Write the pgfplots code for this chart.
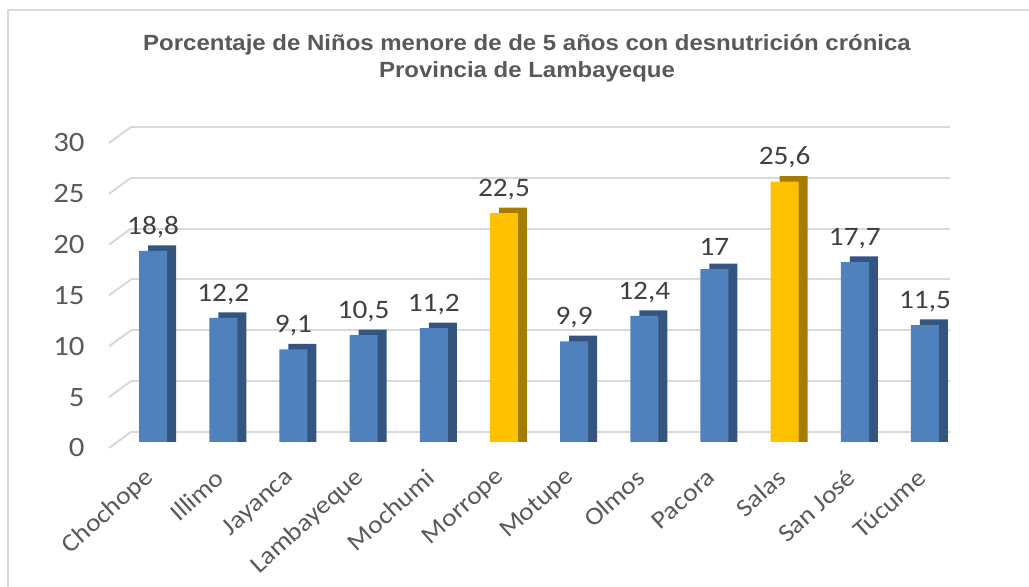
\documentclass[border=0pt]{standalone}
\usepackage{fontspec}
\setmainfont{Carlito}[FakeStretch=1.1]
\newfontfamily\titlefont{Liberation Sans}[FakeStretch=1.09]
\usepackage{pgfplots}
\pgfplotsset{compat=1.18}
\usepackage{pgfplotstable}

\definecolor{barblue}{HTML}{4F81BD}
\definecolor{barblueside}{HTML}{34557F}
\definecolor{baryel}{HTML}{FFC000}
\definecolor{baryelside}{HTML}{A37C00}
\definecolor{gridgray}{HTML}{D9D9D9}
\definecolor{txtgray}{HTML}{595959}
\definecolor{lblgray}{HTML}{404040}

% blue bars
\pgfplotstableread{
x v
0 18.8
1 12.2
2 9.1
3 10.5
4 11.2
6 9.9
7 12.4
8 17
10 17.7
11 11.5
}\azul
% yellow bars (Morrope, Salas)
\pgfplotstableread{
x v
5 22.5
9 25.6
}\amarillo

\begin{document}
\begin{tikzpicture}
\useasboundingbox (0,0) rectangle (514.5pt,293.5pt);

% frame (left and top edges only)
\draw[gridgray, line width=1.3pt] (4pt,0) -- (4pt,288.5pt) -- (514.5pt,288.5pt);

% title
\node[font=\titlefont\bfseries\fontsize{11}{13.5}\selectfont, text=txtgray, align=center]
  at (263.5pt,264.3pt) {Porcentaje de Niños menore de de 5 años con desnutrición crónica\\Provincia de Lambayeque};

% back wall grid
\begin{axis}[
  at={(65.5pt,77.5pt)}, anchor=south west,
  scale only axis, width=409.5pt, height=152.5pt,
  xmin=0, xmax=1, ymin=0, ymax=30,
  ytick={0,5,...,30}, xtick=\empty,
  yticklabel style={text opacity=0},
  ymajorgrids, grid style={gridgray, line width=1pt},
  axis line style={draw=none}, tick style={draw=none},
  clip=false,
]
\addplot[draw=none] coordinates {(0,0)};
\pgfplotsinvokeforeach{0,5,...,30}{
  \draw[gridgray, line width=1pt] (axis cs:0,#1) -- ++(-11pt,-8pt);
}
\end{axis}

% bars
\begin{axis}[
  at={(55.5pt,72.5pt)}, anchor=south west,
  scale only axis, width=410.5pt, height=152.5pt,
  xmin=-0.6, xmax=11.1, ymin=0, ymax=30,
  ytick={0,5,...,30},
  xtick={0,...,11},
  xticklabels={Chochope,Illimo,Jayanca,Lambayeque,Mochumi,Morrope,Motupe,Olmos,Pacora,Salas,San José,Túcume},
  axis line style={draw=none}, tick style={draw=none},
  /pgf/number format/assume math mode=true,
  /pgf/number format/use comma,
  yticklabel style={font=\fontsize{14}{14}\selectfont, text=txtgray, inner sep=0pt, xshift=-13pt, yshift=-3pt},
  xticklabel style={font=\fontsize{12.5}{12.5}\selectfont, text=txtgray, inner sep=0pt, xshift=-1.5pt, yshift=-16pt, rotate=42, anchor=east},
  every node near coord/.append style={font=\fontsize{13.3}{13.3}\selectfont, text=lblgray, inner sep=0pt, yshift=6.5pt},
  clip=false,
]
% depth faces
\addplot[ybar, bar width=14pt, bar shift=4.5pt, fill=barblueside, draw=none]
  table[x=x, y expr=\thisrow{v}+0.55] {\azul};
\addplot[ybar, bar width=14pt, bar shift=4.5pt, fill=baryelside, draw=none]
  table[x=x, y expr=\thisrow{v}+0.55] {\amarillo};
% front faces
\addplot[ybar, bar width=14pt, bar shift=0pt, fill=barblue, draw=none, nodes near coords]
  table[x=x, y=v] {\azul};
\addplot[ybar, bar width=14pt, bar shift=0pt, fill=baryel, draw=none, nodes near coords]
  table[x=x, y=v] {\amarillo};
\end{axis}
\end{tikzpicture}
\end{document}
